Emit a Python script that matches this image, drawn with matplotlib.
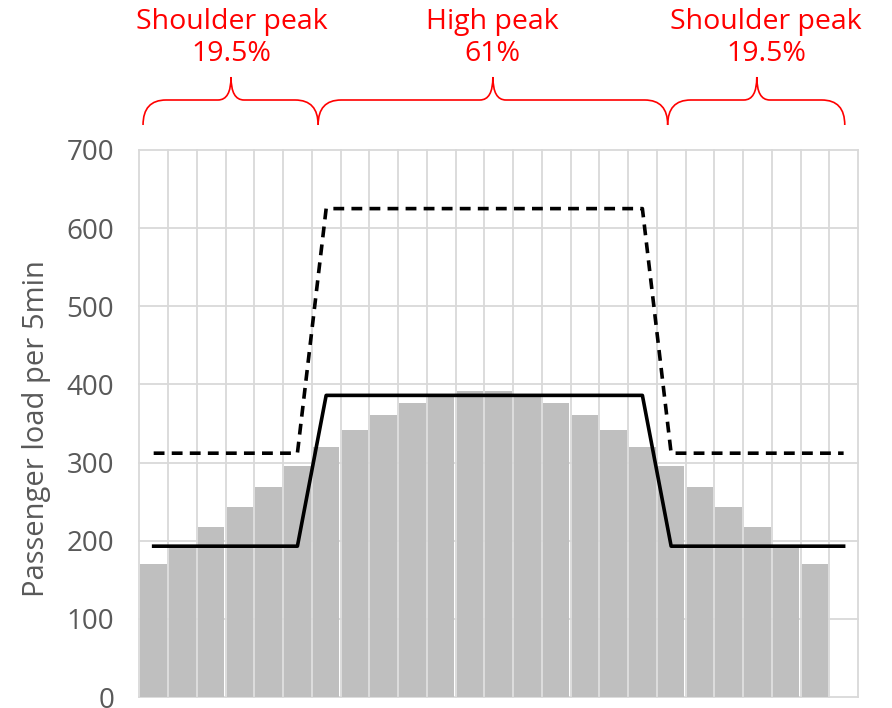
import numpy as np
import matplotlib
matplotlib.use("Agg")
import matplotlib.pyplot as plt
from matplotlib.path import Path
from matplotlib.patches import PathPatch

plt.rcParams['font.family'] = ['Open Sans', 'DejaVu Sans']

# data ---------------------------------------------------------------
slots = np.arange(25)
load = [170, 195, 218, 243, 269, 296, 320, 342, 361, 376, 386, 391,
        391, 386, 376, 361, 342, 320, 296, 269, 243, 218, 195, 170]
capacity_solid = [193] * 6 + [386] * 12 + [193] * 7
capacity_dash = [312] * 6 + [625] * 12 + [312] * 7
y_ticks = [0, 100, 200, 300, 400, 500, 600, 700]

periods = ["Shoulder peak\n19.5%", "High peak\n61%", "Shoulder peak\n19.5%"]
brace_spans = [(-0.37, 5.72, 2.69), (5.72, 17.88, 11.8), (17.88, 24.04, 20.98)]
label_x = [2.72, 11.77, 21.3]

GRID = "#d9d9d9"
TXT = "#595959"
RED = "#ff0000"

W, H = 892, 708
fig = plt.figure(figsize=(W / 100, H / 100), dpi=100)
L, R, B, T = 139.3, 858.0, 697.0, 150.0
ax = fig.add_axes([L / W, (H - B) / H, (R - L) / W, (B - T) / H])

ax.bar(np.arange(len(load)), load, width=0.92, color="#bfbfbf", zorder=2)
ax.plot(slots, capacity_solid, color="black", lw=2.6, zorder=3)
ax.plot(slots, capacity_dash, color="black", lw=2.6, ls=(0, (3, 2)), zorder=3)

ax.set_xlim(-0.5, 24.5)
ax.set_ylim(0, 700)
ax.set_yticks(y_ticks)
ax.set_xticks(np.arange(-0.5, 25, 1))
ax.set_xticklabels([])
ax.tick_params(axis="both", length=0)
ax.tick_params(axis="y", pad=18, labelsize=20, labelcolor=TXT)
ax.grid(True, color=GRID, lw=1.3, zorder=0)
ax.set_axisbelow(True)
for s in ax.spines.values():
    s.set_visible(False)
for g in ax.get_xgridlines() + ax.get_ygridlines():
    g.set_clip_on(False)

fig.text(37 / W, 1 - 429 / H, "Passenger load per 5min", rotation=90,
         ha="center", va="center", fontsize=21, color=TXT)

# braces + period labels on top --------------------------------------
bax = fig.add_axes([L / W, (H - T) / H, (R - L) / W, T / H])
bax.set_xlim(-0.5, 24.5)
bax.set_ylim(T, 0)
bax.axis("off")


def brace(x0, x1, xt, y_end=125, y_flat=100, y_tip=77, rx=0.8, rt=0.45):
    verts = [(x0, y_end), (x0, y_flat), (x0 + rx, y_flat),
             (xt - rt, y_flat), (xt, y_flat), (xt, y_tip),
             (xt, y_flat), (xt + rt, y_flat),
             (x1 - rx, y_flat), (x1, y_flat), (x1, y_end)]
    codes = [Path.MOVETO, Path.CURVE3, Path.CURVE3,
             Path.LINETO, Path.CURVE3, Path.CURVE3,
             Path.CURVE3, Path.CURVE3,
             Path.LINETO, Path.CURVE3, Path.CURVE3]
    return PathPatch(Path(verts, codes), fill=False, edgecolor=RED, lw=1.2,
                     clip_on=False)


for (x0, x1, xt), txt, lx in zip(brace_spans, periods, label_x):
    bax.add_patch(brace(x0, x1, xt))
    bax.text(lx, 38, txt, ha="center", va="center", fontsize=20.5,
             color=RED, linespacing=1.15, clip_on=False)

fig.savefig("out.png", dpi=100, facecolor="white")
